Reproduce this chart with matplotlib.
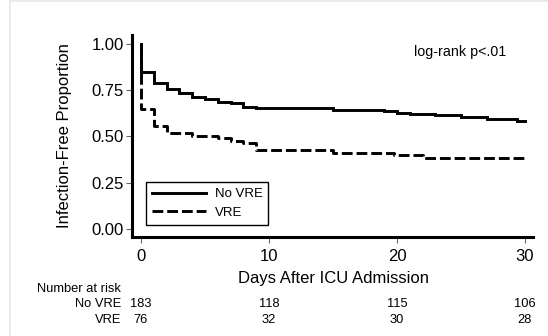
import matplotlib
matplotlib.use("Agg")
import matplotlib.pyplot as plt
from matplotlib import transforms
from matplotlib.lines import Line2D

plt.rcParams['font.family'] = ['Liberation Sans', 'DejaVu Sans']

# ---- data ----
no_vre_t = [0, 0, 1, 2, 3, 4, 5, 6, 7, 8, 9, 15, 19, 20, 21, 23, 25, 27, 29.4, 30]
no_vre_s = [1.0, 0.85, 0.787, 0.755, 0.733, 0.715, 0.701, 0.688, 0.679, 0.661,
            0.652, 0.643, 0.636, 0.629, 0.622, 0.615, 0.604, 0.596, 0.585, 0.585]
vre_t = [0, 0, 1, 2, 4, 6, 7, 8, 9, 15, 19.8, 22, 30]
vre_s = [1.0, 0.65, 0.556, 0.52, 0.505, 0.494, 0.478, 0.463, 0.426, 0.413, 0.40, 0.386, 0.386]

x_ticks = [0, 10, 20, 30]
y_ticks = [0.0, 0.25, 0.5, 0.75, 1.0]
y_ticklabels = ["0.00", "0.25", "0.50", "0.75", "1.00"]
risk_groups = ["No VRE", "VRE"]
risk_no_vre = [183, 118, 115, 106]
risk_vre = [76, 32, 30, 28]

W, H = 548, 336
fig = plt.figure(figsize=(W / 100, H / 100), dpi=100)
fig.patch.set_facecolor('white')

def fx(px):
    return px / W

def fy(py):
    return 1 - py / H

# light frame of the original image
fig.add_artist(Line2D([fx(10), fx(10)], [0, fy(1)], color='#e8e8e8', lw=1.2, transform=fig.transFigure))
fig.add_artist(Line2D([fx(10), 1], [fy(1), fy(1)], color='#e8e8e8', lw=1.2, transform=fig.transFigure))

left, right, top, bottom = 132, 533, 35, 237
ax = fig.add_axes([fx(left), fy(bottom), fx(right) - fx(left), fy(top) - fy(bottom)])

ax.plot(no_vre_t, no_vre_s, drawstyle='steps-post', color='black', lw=2.1,
        label='No VRE', solid_joinstyle='miter')
ax.plot(vre_t, vre_s, drawstyle='steps-post', color='black', lw=2.1,
        linestyle=(0, (3.7, 1.35)), label='VRE')

ax.set_xlim(-0.703, 30.625)
ax.set_ylim(-0.0432, 1.0486)
ax.set_xticks(x_ticks)
ax.set_xticklabels([str(v) for v in x_ticks])
ax.set_yticks(y_ticks)
ax.set_yticklabels(y_ticklabels)

for s in ['top', 'right']:
    ax.spines[s].set_visible(False)
ax.spines['left'].set_linewidth(2.2)
ax.spines['bottom'].set_linewidth(2.2)

ax.tick_params(axis='both', direction='out', length=4, width=0.8, color='#666666',
               labelsize=12, labelcolor='black')
ax.tick_params(axis='x', pad=4.5)
ax.tick_params(axis='y', pad=2)

fig.text(fx(65), fy(136), 'Infection-Free Proportion', rotation=90,
         ha='center', va='center', fontsize=12)
fig.text(fx(333), fy(278), 'Days After ICU Admission', ha='center', va='center', fontsize=12)
fig.text(fx(414), fy(52), 'log-rank p<.01', ha='left', va='center', fontsize=10.3)

leg = ax.legend(loc='upper left', bbox_to_anchor=(fx(146), fy(182)),
                bbox_transform=fig.transFigure, borderaxespad=0, fontsize=9.5,
                handlelength=4.1, handletextpad=0.65, borderpad=0.45,
                labelspacing=0.5, fancybox=False, framealpha=1)
leg.get_frame().set_edgecolor('black')
leg.get_frame().set_linewidth(1.0)

# number at risk table
fig.text(fx(37), fy(289), 'Number at risk', ha='left', va='center', fontsize=9.3)
blend = transforms.blended_transform_factory(ax.transData, fig.transFigure)
for name, vals, yy in [(risk_groups[0], risk_no_vre, 304), (risk_groups[1], risk_vre, 320)]:
    fig.text(fx(121), fy(yy), name, ha='right', va='center', fontsize=9.3)
    for xv, n in zip(x_ticks, vals):
        ax.text(xv, fy(yy), str(n), transform=blend, ha='center', va='center',
                fontsize=9.3, clip_on=False)

fig.savefig('out.png', dpi=100)
